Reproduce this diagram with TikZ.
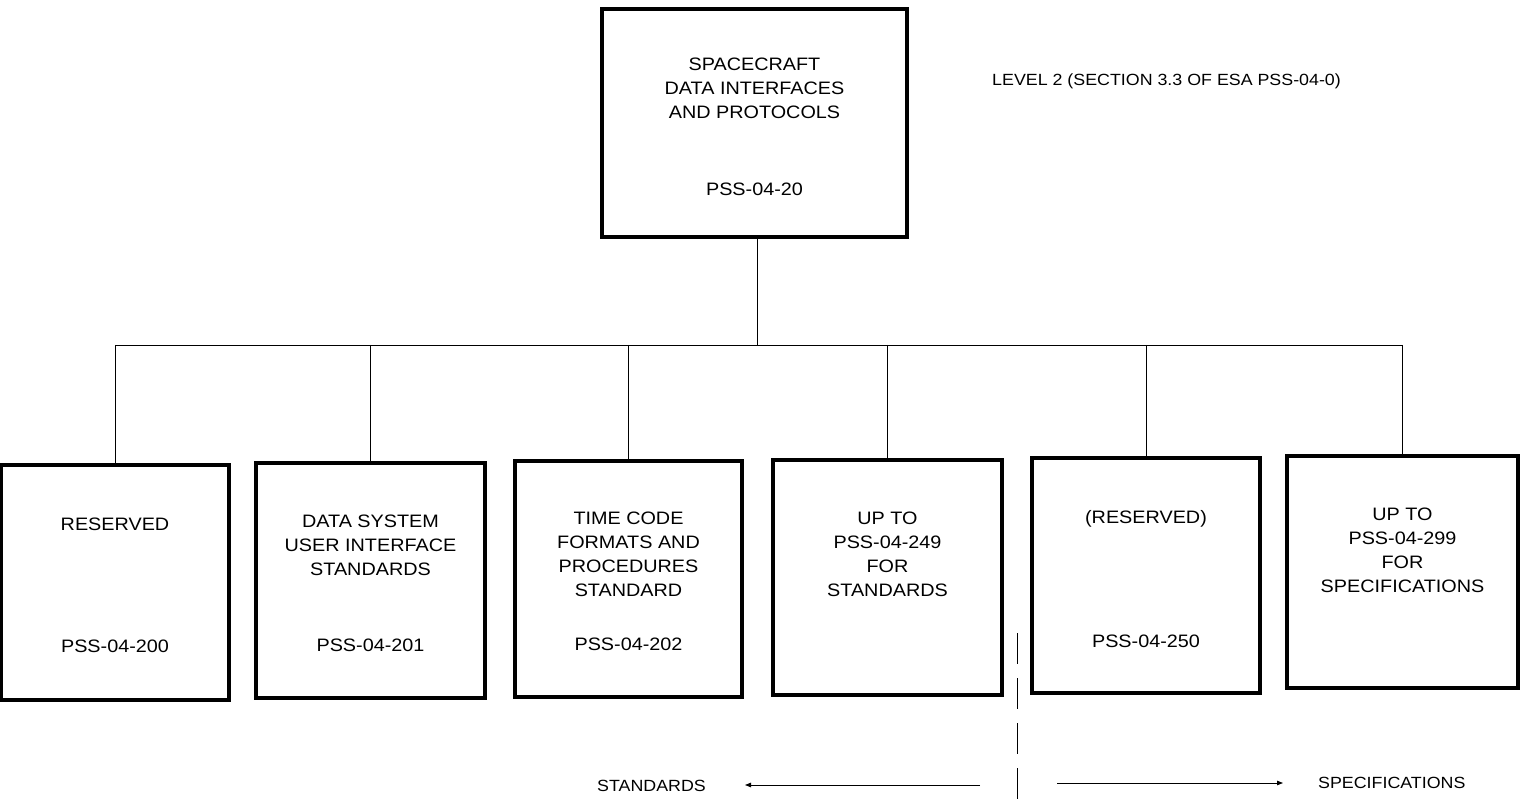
\documentclass[tikz,border=0pt]{standalone}
\usepackage{fontspec}
\newfontfamily\hv{Liberation Sans}[FakeStretch=1.1]
\usetikzlibrary{arrows.meta}
\tikzset{
  box/.style={draw, line width=3.2pt, inner sep=0pt},
  txt/.style={align=center, anchor=north, inner sep=0pt, font=\hv\fontsize{18}{24}\selectfont},
  small/.style={inner sep=0pt, font=\hv\fontsize{16.2}{20}\selectfont},
  conn/.style={line width=0.9pt},
  arr/.style={line width=0.9pt, -{Triangle[length=6pt,width=4.5pt]}},
  divider/.style={line width=1pt, dash pattern=on 31pt off 14pt}
}
\begin{document}
\begin{tikzpicture}[x=1pt,y=-1pt]
\useasboundingbox (0,0) rectangle (1523,799);
% boxes
\node[box, minimum width=305pt, minimum height=228pt] (top) at (754.5,123) {};
\node[box, minimum width=228pt, minimum height=235pt] (b1) at (115,582.5) {};
\node[box, minimum width=229pt, minimum height=235pt] (b2) at (370.5,580.5) {};
\node[box, minimum width=227pt, minimum height=236pt] (b3) at (628.5,579) {};
\node[box, minimum width=229pt, minimum height=235pt] (b4) at (887.5,577.5) {};
\node[box, minimum width=228pt, minimum height=235pt] (b5) at (1146,575.5) {};
\node[box, minimum width=231pt, minimum height=232pt] (b6) at (1402.5,572) {};
% texts
\node[txt] (t0) at (754.5,58) {SPACECRAFT\\DATA INTERFACES\\AND PROTOCOLS};
\node[txt] (p0) at (754.5,183) {PSS-04-20};
\node[txt] (t1) at (115,518) {RESERVED};
\node[txt] (p1) at (115,640) {PSS-04-200};
\node[txt] (t2) at (370.5,515) {DATA SYSTEM\\USER INTERFACE\\STANDARDS};
\node[txt] (p2) at (370.5,639) {PSS-04-201};
\node[txt] (t3) at (628.5,512) {TIME CODE\\FORMATS AND\\PROCEDURES\\STANDARD};
\node[txt] (p3) at (628.5,638) {PSS-04-202};
\node[txt] (t4) at (887.5,512) {UP TO\\PSS-04-249\\FOR\\STANDARDS};
\node[txt] (t5) at (1146,510) {(RESERVED)};
\node[txt] (p5) at (1146,635) {PSS-04-250};
\node[txt] (t6) at (1402.5,508) {UP TO\\PSS-04-299\\FOR\\SPECIFICATIONS};
\node[small, anchor=north west] (lvl) at (992,74) {LEVEL 2 (SECTION 3.3 OF ESA PSS-04-0)};
\node[small, anchor=north west] (std) at (597,780) {STANDARDS};
\node[small, anchor=north west] (spec) at (1318,777) {SPECIFICATIONS};
% tree connectors
\coordinate (bar) at (757,345);
\draw[conn] (bar |- top.south) -- (bar);
\draw[conn] (b1.north |- bar) -- (b6.north |- bar);
\foreach \b in {b1,b2,b3,b4,b5,b6} {
  \draw[conn] (\b.north |- bar) -- (\b.north);
}
% divider and arrows
\coordinate (d1) at (1017,633);
\coordinate (d2) at (1017,799);
\draw[divider] (d1) -- (d2);
\coordinate (sa) at (980,785);
\coordinate (sb) at (745,785);
\draw[arr] (sa) -- (sb);
\coordinate (pa) at (1057,783);
\coordinate (pb) at (1283,783);
\draw[arr] (pa) -- (pb);
\end{tikzpicture}
\end{document}
